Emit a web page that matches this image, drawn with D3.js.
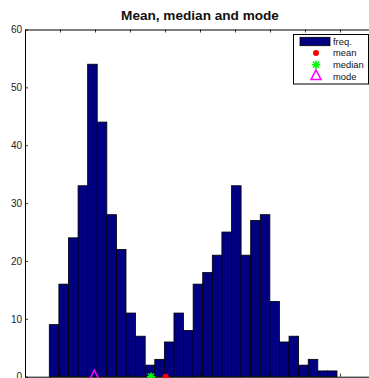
<!DOCTYPE html>
<html>
<head>
<meta charset="utf-8">
<script src="https://cdn.jsdelivr.net/npm/d3@7"></script>
<style>
  html, body { margin: 0; padding: 0; background: #fff; }
  svg { display: block; font-family: "Liberation Sans", Arial, Helvetica, sans-serif; }
</style>
</head>
<body>
<svg id="chart" width="369" height="378"></svg>
<script>
// Histogram of 500 samples from a bimodal distribution, 30 equal-width bins
const binStart = 0.694;
const binWidth = 0.274;
const counts = [9, 16, 24, 33, 54, 44, 28, 22, 11, 7,
                2, 3, 6, 11, 8, 16, 18, 21, 25, 33,
                21, 27, 28, 13, 6, 7, 2, 3, 1, 1];

// Summary statistics of the sample
const statNames = ["mean", "median", "mode"];
const statValues = [4.02, 3.60, 1.98];

const yTicks = [0, 10, 20, 30, 40, 50, 60];
const xTicks = [0, 1, 2, 3, 4, 5, 6, 7, 8, 9, 10];
const titleText = "Mean, median and mode";

const svg = d3.select("#chart");
const plot = { left: 25, right: 375, top: 29.5, bottom: 376.7 };

const x = d3.scaleLinear().domain([0, 10]).range([plot.left, plot.right]);
const y = d3.scaleLinear().domain([0, 60]).range([plot.bottom, plot.top]);

const navy = "#000080";

// Bars
svg.append("g")
  .selectAll("rect")
  .data(counts)
  .join("rect")
  .attr("x", (d, i) => x(binStart + i * binWidth))
  .attr("y", d => y(d))
  .attr("width", x(binWidth) - x(0))
  .attr("height", d => y(0) - y(d))
  .attr("fill", navy)
  .attr("stroke", "#000")
  .attr("stroke-width", 0.8);

// Axes: ticks point inward, box on left/top/bottom
const axisLeft = d3.axisLeft(y).tickValues(yTicks).tickSize(-3).tickSizeOuter(0).tickPadding(3);
const axisTop = d3.axisTop(x).tickValues(xTicks).tickSize(-3).tickSizeOuter(0).tickFormat("");
const axisBottom = d3.axisBottom(x).tickValues(xTicks).tickSize(-3).tickSizeOuter(0).tickFormat("");
const axisRight = d3.axisRight(y).tickValues(yTicks).tickSize(-3).tickSizeOuter(0).tickFormat("");

function styleAxis(g) {
  g.selectAll("path.domain").attr("stroke", "#000").attr("stroke-width", 1);
  g.selectAll(".tick line").attr("stroke", "#000").attr("stroke-width", 0.8);
  g.selectAll(".tick text").attr("fill", "#222").style("font-size", "10px");
}

svg.append("g").attr("transform", `translate(${plot.left},0)`).call(axisLeft).call(styleAxis);
svg.append("g").attr("transform", `translate(0,${plot.top})`).call(axisTop).call(styleAxis);
svg.append("g").attr("transform", `translate(0,${plot.bottom})`).call(axisBottom).call(styleAxis);
svg.append("g").attr("transform", `translate(${plot.right},0)`).call(axisRight).call(styleAxis);

// Marker shapes
const markerStyle = {
  mean:   { color: "#ff0000" },
  median: { color: "#00ff00" },
  mode:   { color: "#ff00ff" }
};

function drawMarker(g, name, cx, cy) {
  const c = markerStyle[name].color;
  if (name === "mean") {
    g.append("circle").attr("cx", cx).attr("cy", cy).attr("r", 3).attr("fill", c);
  } else if (name === "median") {
    const r = 4.2, d = r * 0.72;
    g.append("path")
      .attr("d", `M${cx - r},${cy}H${cx + r}M${cx},${cy - r}V${cy + r}` +
                 `M${cx - d},${cy - d}L${cx + d},${cy + d}M${cx - d},${cy + d}L${cx + d},${cy - d}`)
      .attr("stroke", c).attr("stroke-width", 1.6).attr("fill", "none");
  } else {
    g.append("path")
      .attr("d", `M${cx},${cy - 6.5}L${cx + 5},${cy + 3.3}L${cx - 5},${cy + 3.3}Z`)
      .attr("stroke", c).attr("stroke-width", 1.5).attr("fill", "none")
      .attr("stroke-linejoin", "miter");
  }
}

// Statistic markers on the baseline
const markers = svg.append("g");
statNames.forEach((name, i) => drawMarker(markers, name, x(statValues[i]), y(0)));

// Title
svg.append("text")
  .attr("x", (plot.left + plot.right) / 2)
  .attr("y", 20)
  .attr("text-anchor", "middle")
  .style("font-size", "13.6px")
  .style("font-weight", "bold")
  .attr("fill", "#111")
  .text(titleText);

// Legend
const legend = svg.append("g");
legend.append("rect")
  .attr("x", 293.5).attr("y", 34.5).attr("width", 75).attr("height", 49.5)
  .attr("fill", "#fff").attr("stroke", "#000").attr("stroke-width", 1);

const legendLabels = ["freq."].concat(statNames);
const rowY = i => 41.5 + i * 11.6;

legend.append("rect")
  .attr("x", 300).attr("y", rowY(0) - 4.2).attr("width", 30).attr("height", 8.4)
  .attr("fill", navy).attr("stroke", "#000").attr("stroke-width", 0.8);

statNames.forEach((name, i) => drawMarker(legend, name, 316, rowY(i + 1)));

legend.selectAll("text")
  .data(legendLabels)
  .join("text")
  .attr("x", 333)
  .attr("y", (d, i) => rowY(i))
  .attr("dy", "0.35em")
  .style("font-size", "9.4px")
  .attr("fill", "#111")
  .text(d => d);
</script>
</body>
</html>
